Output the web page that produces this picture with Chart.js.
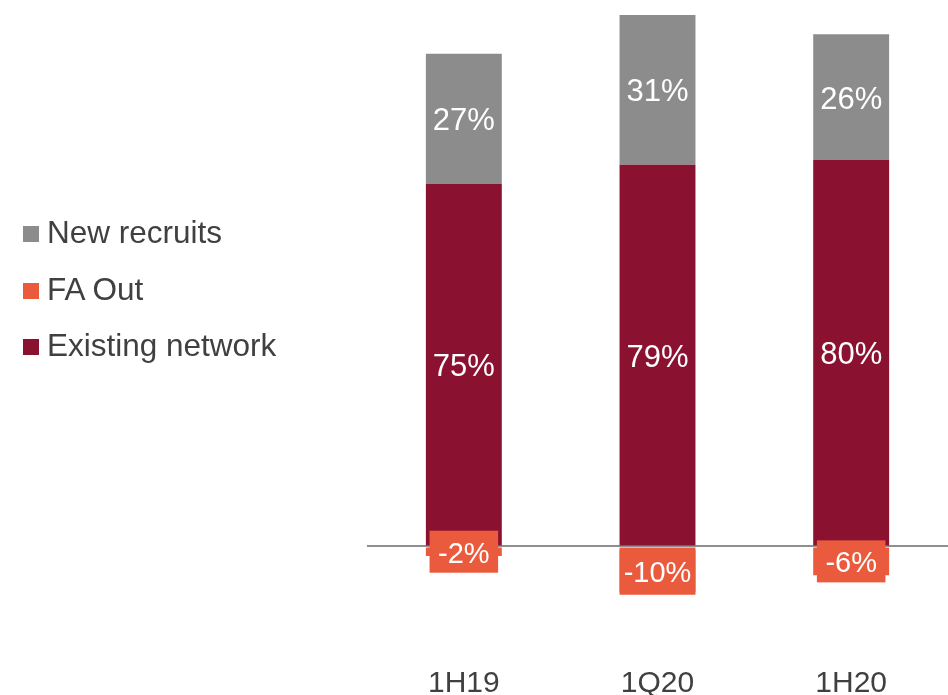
<!DOCTYPE html>
<html>
<head>
<meta charset="utf-8">
<script src="https://cdn.jsdelivr.net/npm/chart.js@4"></script>
<style>
  html, body { margin: 0; padding: 0; background: #fff; overflow: hidden; }
  #wrap { position: relative; width: 948px; height: 695px; overflow: hidden; }
  #chart { position: absolute; left: 0; top: 0; }
  #legend { position: absolute; left: 23px; top: 214px; font-family: 'Liberation Sans', Arial, sans-serif; font-size: 31.5px; color: #404040; }
  #legend .item { height: 56.5px; line-height: 36px; white-space: nowrap; }
  #legend .box { display: inline-block; width: 16px; height: 16px; margin-right: 8px; vertical-align: 1px; }
</style>
</head>
<body>
<div id="wrap">
  <canvas id="chart" width="948" height="728"></canvas>
  <div id="legend"></div>
</div>
<script>
// data
const categories = ['1H19', '1Q20', '1H20'];
const existingNetwork = [75, 79, 80];
const newRecruits = [27, 31, 26];
const faOut = [-2, -10, -6];

const seriesNames = ['Existing network', 'New recruits', 'FA Out'];
const seriesColors = ['#8b1130', '#8c8c8c', '#ea5a3c'];
const legendOrder = [1, 2, 0]; // New recruits, FA Out, Existing network

const fontFamily = "'Liberation Sans', Arial, sans-serif";

// build the html legend
let legendHtml = '';
legendOrder.forEach(i => {
	legendHtml += '<div class="item"><span class="box" style="background:' + seriesColors[i] + '"></span>' + seriesNames[i] + '</div>';
});
document.getElementById('legend').innerHTML = legendHtml;

// draws the value labels, FA Out ones get an orange box
const valueLabels = {
	id: 'valueLabels',
	afterDatasetsDraw(chart) {
		const ctx = chart.ctx;
		ctx.save();
		ctx.textAlign = 'center';
		ctx.textBaseline = 'middle';
		chart.data.datasets.forEach((ds, di) => {
			const meta = chart.getDatasetMeta(di);
			const isOut = ds.label === 'FA Out';
			ctx.font = (isOut ? '29px ' : '31px ') + fontFamily;
			meta.data.forEach((bar, i) => {
				const p = bar.getProps(['x', 'y', 'base', 'width'], true);
				const cy = (p.y + p.base) / 2;
				const text = ds.data[i] + '%';
				if (isOut) {
					const w = Math.min(ctx.measureText(text).width + 17, p.width);
					const h = 42;
					ctx.fillStyle = seriesColors[2];
					ctx.fillRect(p.x - w / 2, cy - h / 2, w, h);
				}
				ctx.fillStyle = '#ffffff';
				ctx.fillText(text, p.x, cy + 3);
			});
		});
		ctx.restore();
	}
};

const ctx = document.getElementById('chart').getContext('2d');
const chart = new Chart(ctx, {
	type: 'bar',
	data: {
		labels: categories,
		datasets: [
			{ label: seriesNames[0], data: existingNetwork, backgroundColor: seriesColors[0] },
			{ label: seriesNames[1], data: newRecruits, backgroundColor: seriesColors[1] },
			{ label: seriesNames[2], data: faOut, backgroundColor: seriesColors[2] }
		]
	},
	options: {
		responsive: false,
		animation: false,
		layout: { padding: { left: 367, right: 0, top: 15, bottom: 3 } },
		categoryPercentage: 1,
		barPercentage: 0.392,
		plugins: {
			legend: { display: false },
			tooltip: { enabled: false }
		},
		scales: {
			x: {
				stacked: true,
				grid: { display: false, drawTicks: false },
				border: { display: false },
				ticks: {
					color: '#404040',
					padding: 23,
					font: { family: fontFamily, size: 30, lineHeight: 1.2 }
				}
			},
			y: {
				stacked: true,
				min: -20,
				max: 110,
				ticks: { display: false, stepSize: 10 },
				border: { display: false },
				grid: {
					drawTicks: false,
					lineWidth: 2,
					color: c => c.tick && c.tick.value === 0 ? '#8f8f8f' : 'rgba(0,0,0,0)'
				}
			}
		}
	},
	plugins: [valueLabels]
});
</script>
</body>
</html>
